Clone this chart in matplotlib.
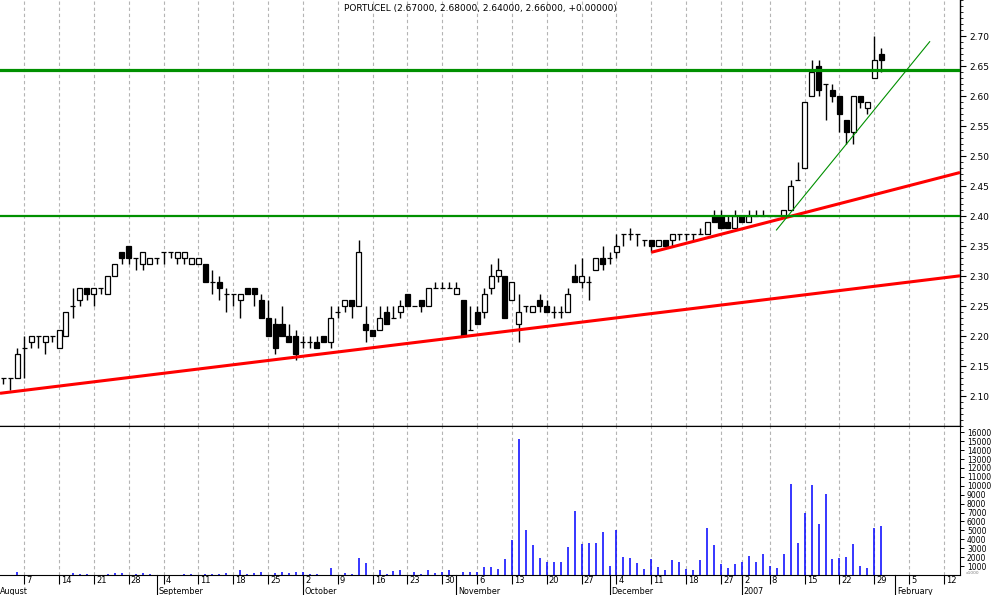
import numpy as np
import pandas as pd
import matplotlib
matplotlib.use('Agg')
import matplotlib.pyplot as plt
from matplotlib.patches import Rectangle
from matplotlib.ticker import MultipleLocator, FixedLocator

# Dias de bolsa (sem feriados de Natal / Ano Novo)
feriados = pd.to_datetime(['2006-12-25', '2006-12-26', '2007-01-01'])
dias = pd.bdate_range('2006-08-02', '2007-02-16')
dias = dias[~dias.isin(feriados)]

titulo = "PORTUCEL (2.67000, 2.68000, 2.64000, 2.66000, +0.00000)"

# Cotações diárias (abertura, máximo, mínimo, fecho)
abertura = [2.13, 2.13, 2.13, 2.18, 2.19, 2.20, 2.19, 2.20, 2.18, 2.20,
            2.25, 2.26, 2.28, 2.27, 2.28, 2.27, 2.30, 2.34, 2.35, 2.33,
            2.32, 2.32, 2.33, 2.34, 2.34, 2.33, 2.33, 2.32, 2.32, 2.32,
            2.29, 2.29, 2.27, 2.27, 2.26, 2.28, 2.28, 2.26, 2.23, 2.22,
            2.22, 2.20, 2.20, 2.19, 2.19, 2.19, 2.20, 2.19, 2.24, 2.25,
            2.26, 2.25, 2.22, 2.21, 2.21, 2.24, 2.23, 2.24, 2.27, 2.25,
            2.26, 2.25, 2.28, 2.28, 2.28, 2.27, 2.26, 2.21, 2.24, 2.24,
            2.28, 2.30, 2.30, 2.26, 2.22, 2.25, 2.24, 2.26, 2.25, 2.24,
            2.24, 2.24, 2.30, 2.29, 2.29, 2.31, 2.33, 2.33, 2.34, 2.37,
            2.37, 2.37, 2.36, 2.36, 2.35, 2.36, 2.36, 2.37, 2.37, 2.37,
            2.37, 2.37, 2.40, 2.40, 2.39, 2.38, 2.40, 2.39, 2.40, 2.40,
            2.40, 2.40, 2.40, 2.41, 2.46, 2.48, 2.60, 2.65, 2.62, 2.61,
            2.60, 2.56, 2.54, 2.60, 2.58, 2.63, 2.67]
maximo = [2.13, 2.13, 2.18, 2.20, 2.20, 2.20, 2.20, 2.20, 2.21, 2.24,
          2.28, 2.28, 2.28, 2.28, 2.28, 2.30, 2.32, 2.34, 2.35, 2.33,
          2.34, 2.33, 2.33, 2.34, 2.34, 2.34, 2.34, 2.33, 2.33, 2.32,
          2.31, 2.30, 2.28, 2.27, 2.27, 2.28, 2.28, 2.27, 2.26, 2.23,
          2.25, 2.22, 2.21, 2.20, 2.20, 2.20, 2.20, 2.25, 2.25, 2.26,
          2.26, 2.36, 2.25, 2.21, 2.25, 2.25, 2.25, 2.26, 2.27, 2.25,
          2.26, 2.28, 2.29, 2.29, 2.29, 2.29, 2.26, 2.25, 2.25, 2.28,
          2.32, 2.33, 2.30, 2.29, 2.27, 2.25, 2.25, 2.27, 2.26, 2.25,
          2.25, 2.28, 2.32, 2.33, 2.30, 2.33, 2.35, 2.34, 2.37, 2.37,
          2.38, 2.37, 2.36, 2.36, 2.36, 2.36, 2.37, 2.37, 2.37, 2.37,
          2.38, 2.39, 2.41, 2.41, 2.40, 2.41, 2.40, 2.41, 2.41, 2.41,
          2.40, 2.40, 2.41, 2.46, 2.49, 2.59, 2.66, 2.66, 2.62, 2.62,
          2.60, 2.56, 2.60, 2.60, 2.59, 2.70, 2.68]
minimo = [2.12, 2.11, 2.13, 2.13, 2.18, 2.18, 2.17, 2.19, 2.18, 2.20,
          2.23, 2.25, 2.26, 2.25, 2.27, 2.27, 2.30, 2.32, 2.32, 2.31,
          2.31, 2.32, 2.32, 2.32, 2.33, 2.32, 2.32, 2.32, 2.32, 2.29,
          2.27, 2.26, 2.24, 2.25, 2.23, 2.27, 2.25, 2.23, 2.20, 2.17,
          2.20, 2.19, 2.16, 2.18, 2.18, 2.18, 2.19, 2.18, 2.23, 2.24,
          2.23, 2.25, 2.19, 2.20, 2.21, 2.22, 2.23, 2.23, 2.25, 2.25,
          2.24, 2.25, 2.28, 2.28, 2.28, 2.27, 2.20, 2.21, 2.22, 2.23,
          2.27, 2.29, 2.23, 2.26, 2.19, 2.24, 2.24, 2.24, 2.24, 2.23,
          2.23, 2.24, 2.29, 2.28, 2.26, 2.31, 2.31, 2.32, 2.33, 2.35,
          2.36, 2.35, 2.35, 2.34, 2.35, 2.35, 2.35, 2.36, 2.36, 2.36,
          2.37, 2.37, 2.39, 2.38, 2.38, 2.38, 2.39, 2.39, 2.40, 2.40,
          2.40, 2.40, 2.40, 2.41, 2.46, 2.48, 2.60, 2.60, 2.56, 2.59,
          2.54, 2.52, 2.52, 2.58, 2.57, 2.63, 2.64]
fecho = [2.13, 2.13, 2.17, 2.18, 2.20, 2.20, 2.20, 2.20, 2.21, 2.24,
         2.25, 2.28, 2.27, 2.28, 2.28, 2.30, 2.32, 2.33, 2.33, 2.33,
         2.34, 2.33, 2.33, 2.34, 2.34, 2.34, 2.34, 2.33, 2.33, 2.29,
         2.29, 2.28, 2.27, 2.27, 2.27, 2.27, 2.27, 2.23, 2.20, 2.18,
         2.20, 2.19, 2.17, 2.19, 2.19, 2.18, 2.19, 2.23, 2.24, 2.26,
         2.25, 2.34, 2.21, 2.20, 2.23, 2.22, 2.23, 2.25, 2.25, 2.25,
         2.25, 2.28, 2.28, 2.28, 2.28, 2.28, 2.20, 2.21, 2.22, 2.27,
         2.30, 2.31, 2.23, 2.29, 2.24, 2.25, 2.25, 2.25, 2.24, 2.24,
         2.24, 2.27, 2.29, 2.30, 2.29, 2.33, 2.32, 2.33, 2.35, 2.37,
         2.37, 2.37, 2.36, 2.35, 2.36, 2.35, 2.37, 2.37, 2.37, 2.37,
         2.37, 2.39, 2.39, 2.38, 2.38, 2.40, 2.39, 2.40, 2.40, 2.40,
         2.40, 2.40, 2.41, 2.45, 2.46, 2.59, 2.64, 2.61, 2.62, 2.60,
         2.57, 2.54, 2.60, 2.59, 2.59, 2.66, 2.66]
# Volume (unidades)
volume = [0, 0, 340, 0, 0, 0, 0, 0, 0, 0,
          220, 110, 110, 0, 0, 110, 220, 220, 0, 110,
          220, 110, 0, 0, 0, 0, 110, 110, 0, 110,
          110, 110, 220, 0, 560, 110, 220, 340, 0, 220,
          340, 220, 340, 340, 110, 110, 0, 780, 0, 220,
          110, 1900, 1340, 0, 560, 110, 450, 560, 0, 340,
          110, 560, 220, 340, 560, 0, 340, 340, 340, 900,
          930, 670, 1790, 3920, 15200, 5040, 3360, 1900, 1460, 1460,
          1460, 3130, 7160, 3470, 3580, 3580, 4810, 1010, 5040, 2010,
          1900, 1340, 670, 1790, 900, 560, 1680, 1460, 670, 560,
          1680, 5260, 3360, 1230, 780, 1230, 1460, 2130, 1460, 2350,
          1010, 780, 2350, 10180, 3580, 6940, 10070, 5710, 9060, 1790,
          1900, 2010, 3470, 1010, 780, 5260, 5480]

# Linhas de tendência desenhadas (x em dias de bolsa, y em euros)
suporte_x, suporte_y = [-0.47, 137.3], [2.1045, 2.3003]
suporte2_x, suporte2_y = [93.0, 137.3], [2.3395, 2.4725]
tendencia_x, tendencia_y = [110.96, 132.95], [2.3767, 2.6905]
resistencias = [2.643, 2.40]

n = len(fecho)
x = np.arange(n)

fig = plt.figure(figsize=(9.94, 5.95), dpi=100)
ax = fig.add_axes([0, 1 - 426 / 595, 960 / 994, 426 / 595])
axv = fig.add_axes([0, 1 - 575 / 595, 960 / 994, 149 / 595], sharex=ax)

# Semanas (primeiro dia de cada semana) e meses
semana = dias.to_period('W')
inicio_semana = [i for i in range(1, len(dias)) if semana[i] != semana[i - 1]]
inicio_mes = [i for i in range(1, len(dias)) if dias[i].month != dias[i - 1].month]

for a in (ax, axv):
    for s in inicio_semana:
        a.axvline(s, color='#b4b4b4', lw=0.8, dashes=(3, 2.5), zorder=0)

# Velas
w = 0.72
ax.vlines(x, minimo, maximo, color='black', lw=1.0, zorder=2)
for i in range(n):
    o, c = abertura[i], fecho[i]
    cor = 'white' if c >= o else 'black'
    ax.add_patch(Rectangle((i - w / 2, min(o, c)), w, abs(c - o),
                           facecolor=cor, edgecolor='black', lw=0.9, zorder=3))

# Linhas desenhadas
ax.plot(suporte_x, suporte_y, color='#ff0000', lw=2.2, zorder=4, solid_capstyle='butt')
ax.plot(suporte2_x, suporte2_y, color='#ff0000', lw=2.2, zorder=4, solid_capstyle='butt')
ax.plot(tendencia_x, tendencia_y, color='#009000', lw=0.8, zorder=4)
ax.axhline(resistencias[0], color='#009000', lw=2.3, zorder=4)
ax.axhline(resistencias[1], color='#009000', lw=1.6, zorder=4)

ax.set_xlim(-0.47, 137.3)
ax.set_ylim(2.05, 2.76)
ax.yaxis.tick_right()
ax.set_yticks(np.arange(2.10, 2.701, 0.05))
ax.set_yticklabels([f"{v:.2f}" for v in np.arange(2.10, 2.701, 0.05)])
ax.yaxis.set_minor_locator(MultipleLocator(0.01))
ax.tick_params(axis='y', which='major', direction='out', length=4, width=0.8,
               labelsize=6.5, pad=3)
ax.tick_params(axis='y', which='minor', direction='out', length=2, width=0.6)
ax.tick_params(axis='x', which='both', length=0, labelbottom=False)
for lado in ('left', 'top'):
    ax.spines[lado].set_visible(False)
ax.spines['right'].set_linewidth(1.0)
ax.spines['bottom'].set_linewidth(1.0)
ax.text(0.5, 0.99, titulo, transform=ax.transAxes, ha='center', va='top', fontsize=6.5)

# Volume
axv.vlines(x, 0, volume, color='#0000ff', lw=1.1)
axv.set_ylim(0, 16700)
axv.yaxis.tick_right()
axv.set_yticks(np.arange(1000, 16001, 1000))
axv.tick_params(axis='y', direction='out', length=3, width=0.7, labelsize=5.5, pad=2)
axv.spines['left'].set_visible(False)
axv.text(1.006, 0.003, "x1000", transform=axv.transAxes, fontsize=3.2, color='#808080',
         ha='left', va='bottom')

axv.xaxis.set_major_locator(FixedLocator(inicio_semana))
axv.tick_params(axis='x', direction='out', length=6.5, width=0.8, labelbottom=False)
for s in inicio_semana:
    axv.annotate(str(dias[s].day), xy=(s, 0), xycoords=('data', 'axes fraction'),
                 xytext=(1.5, -1.0), textcoords='offset points', ha='left', va='top',
                 fontsize=6, annotation_clip=False)

nomes_meses = {8: 'August', 9: 'September', 10: 'October', 11: 'November',
               12: 'December', 1: '2007', 2: 'February'}
axv.annotate(nomes_meses[dias[0].month], xy=(-0.47, 0), xycoords=('data', 'axes fraction'),
             xytext=(0, -8.3), textcoords='offset points', ha='left', va='top', fontsize=5.8)
for m in inicio_mes:
    axv.plot([m, m], [0, -0.14], transform=axv.get_xaxis_transform(), color='black',
             lw=0.8, clip_on=False)
    axv.annotate(nomes_meses[dias[m].month], xy=(m, 0), xycoords=('data', 'axes fraction'),
                 xytext=(1.2, -8.3), textcoords='offset points', ha='left', va='top',
                 fontsize=5.8, annotation_clip=False)

fig.savefig('out.png', dpi=100)
